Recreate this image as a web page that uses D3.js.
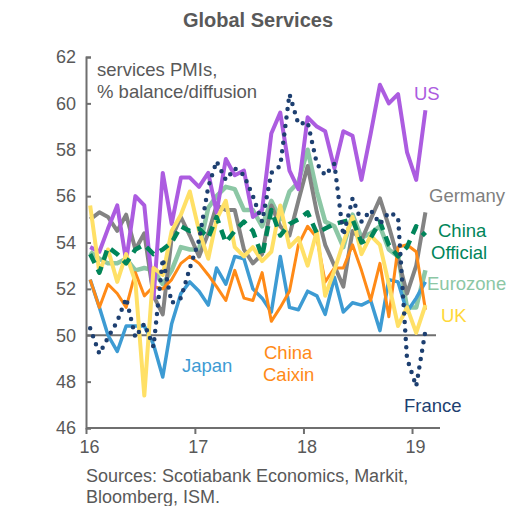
<!DOCTYPE html>
<html><head><meta charset="utf-8">
<script src="https://cdn.jsdelivr.net/npm/d3@7"></script>
<style>body{margin:0;background:#fff}svg{display:block}text{font-family:"Liberation Sans",Arial,sans-serif}</style>
</head><body><svg id="c" width="516" height="506"></svg>
<script>
// Monthly data, Jan 2016 – Feb 2019
const startYear = 2016, startMonth = 0;
const us = [53.8,53.6,54.6,55.6,53.2,56.0,55.6,51.6,57.0,54.8,56.8,56.8,
            56.4,57.0,55.3,57.6,56.9,57.1,55.1,55.4,58.7,59.6,57.1,56.3,
            59.4,59.0,58.8,57.2,58.8,58.6,56.7,58.7,60.8,60.0,60.4,57.9,
            56.7,59.7];
const germany = [55.0,55.3,55.1,54.5,55.2,53.7,54.4,51.7,50.9,54.2,55.1,54.3,
                 53.4,54.4,55.6,55.4,55.4,53.7,53.1,53.5,55.6,54.7,54.3,55.8,
                 57.3,55.3,53.9,53.0,52.1,54.5,54.1,55.0,55.9,54.7,53.3,51.8,
                 53.0,55.3];
const eurozone = [53.6,53.3,53.1,53.1,53.3,52.8,52.9,52.8,52.2,52.8,53.8,53.7,
                  53.7,55.5,56.0,56.4,56.3,55.4,55.4,54.7,55.8,55.0,56.2,56.6,
                  58.0,56.2,54.9,54.7,53.8,55.2,54.2,54.4,54.7,53.7,53.4,51.2,
                  51.2,52.8];
const chinaOfficial = [53.5,52.7,53.8,53.5,53.1,53.7,53.9,53.5,53.7,54.0,54.7,54.5,
                       54.6,54.2,55.1,54.0,54.5,54.9,54.5,53.4,55.4,54.3,54.8,55.0,
                       55.3,54.4,54.6,54.8,54.9,55.0,54.0,54.2,54.9,53.9,53.4,53.8,
                       54.7,54.3];
const chinaCaixin = [52.4,51.2,52.2,51.8,51.2,52.7,51.7,52.1,52.0,52.4,53.1,53.4,
                     53.1,52.6,52.1,51.5,52.8,51.6,51.5,52.7,50.6,51.2,51.9,53.9,
                     54.7,54.2,52.3,52.9,52.9,53.9,52.8,51.5,53.1,50.8,53.8,53.9,
                     53.6,51.1];
const japan = [52.4,51.2,50.0,49.3,50.4,50.4,50.4,49.6,48.2,50.5,51.8,52.3,
               51.9,51.3,52.9,52.2,53.4,53.3,52.0,51.6,51.0,53.4,51.2,51.1,
               51.9,51.7,50.9,52.5,51.0,51.4,51.3,51.5,50.2,52.4,52.3,51.0,
               51.6,52.3];
const uk = [55.6,52.7,53.7,52.3,53.5,52.3,47.4,52.9,52.6,54.5,55.2,56.2,
            54.5,53.3,55.0,55.8,53.8,53.4,53.8,53.2,53.6,55.6,53.8,54.2,
            53.0,54.5,51.7,52.8,54.0,55.1,53.5,54.3,53.9,52.2,50.4,51.2,
            50.1,51.3];
const france = [50.3,49.2,49.9,50.6,51.6,49.9,50.5,49.5,53.3,51.4,51.6,52.9,
                54.1,56.4,57.5,56.7,57.2,56.9,56.0,54.9,57.0,57.3,60.4,59.1,
                59.2,57.4,56.9,57.4,54.3,55.9,54.9,55.4,54.8,55.3,55.1,49.0,
                47.8,50.2];
const yTicks = [46,48,50,52,54,56,58,60,62];
const xTickYears = [2016,2017,2018,2019];
const xTickLabels = ["16","17","18","19"];

const svg = d3.select("#c");
const x = d3.scaleTime().domain([new Date(2016,0,1), new Date(2019,3,5)]).range([86, 440]);
const y = d3.scaleLinear().domain([46, 62]).range([428, 57]);
const date = i => new Date(startYear, startMonth + i, 15);
const axisCol = "#6f6f6f", txtCol = "#595959";
const FONT = "Liberation Sans, Arial, sans-serif";

// title
svg.append("text").attr("x", 258).attr("y", 27).attr("text-anchor","middle")
  .attr("font-size", 20).attr("font-weight","bold").attr("fill", txtCol).text("Global Services");

// y axis
const yAxis = d3.axisLeft(y).tickValues(yTicks).tickSize(-5).tickPadding(10).tickFormat(d3.format("d"));
const gy = svg.append("g").attr("transform","translate(86,0)").call(yAxis);
gy.select(".domain").attr("stroke", axisCol).attr("stroke-width", 2);
gy.selectAll(".tick line").attr("stroke", axisCol).attr("stroke-width", 2);
gy.selectAll(".tick text").attr("font-size", 18).attr("fill", txtCol).attr("font-family", FONT);

// x axis
const xAxis = d3.axisBottom(x).tickValues(xTickYears.map(yr => new Date(yr,0,1)))
  .tickSize(6).tickPadding(6).tickFormat((d,i) => xTickLabels[i]);
const gx = svg.append("g").attr("transform","translate(0,428)").call(xAxis);
gx.select(".domain").attr("stroke", axisCol).attr("stroke-width", 2).attr("d", "M86,0H440");
gx.selectAll(".tick line").attr("stroke", axisCol).attr("stroke-width", 2);
gx.selectAll(".tick text").attr("font-size", 18).attr("fill", txtCol).attr("dx", 3).attr("font-family", FONT);

// 50 line
svg.append("line").attr("x1", 86).attr("x2", 436).attr("y1", y(50)).attr("y2", y(50))
  .attr("stroke", "#6f6f6f").attr("stroke-width", 2);

const line = d3.line().x((d,i) => x(date(i))).y(d => y(d));
const series = [
  {v: eurozone, c: "#8cc7a5", w: 4.5},
  {v: germany, c: "#838383", w: 4},
  {v: japan, c: "#3d9bd3", w: 3.5},
  {v: chinaCaixin, c: "#ff8a17", w: 3},
  {v: us, c: "#ac5ce0", w: 4},
  {v: uk, c: "#ffe066", w: 4},
  {v: chinaOfficial, c: "#00855a", w: 4.5, dash: "10,7"},
  {v: france, c: "#1d3f70", w: 4.5, dash: "0,8.5", cap: "round"}
];
series.forEach(s => {
  svg.append("path").attr("d", line(s.v)).attr("fill","none")
    .attr("stroke", s.c).attr("stroke-width", s.w)
    .attr("stroke-linejoin","round")
    .attr("stroke-linecap", s.cap || "butt")
    .attr("stroke-dasharray", s.dash || null);
});

// annotation labels
const labels = [
  {t:["services PMIs,","% balance/diffusion"], x:97, y:76, c:txtCol},
  {t:["US"], x:414, y:100, c:"#ac5ce0"},
  {t:["Germany"], x:429, y:202, c:"#7f7f7f"},
  {t:["China","Official"], x:[438,431], y:237, c:"#00855a"},
  {t:["Eurozone"], x:427, y:290, c:"#8cc7a5"},
  {t:["UK"], x:441, y:322, c:"#ffd83a"},
  {t:["France"], x:404, y:412, c:"#1d3f70"},
  {t:["Japan"], x:182, y:372, c:"#3d9bd3"},
  {t:["China","Caixin"], x:[264,263], y:359, c:"#ff8a17"}
];
labels.forEach(l => {
  l.t.forEach((s,i) => {
    svg.append("text").attr("x", Array.isArray(l.x) ? l.x[i] : l.x).attr("y", l.y + i*22)
      .attr("font-size", 18.5).attr("fill", l.c).text(s);
  });
});

// sources
svg.append("text").attr("x", 86).attr("y", 482).attr("font-size", 18).attr("fill", txtCol)
  .text("Sources: Scotiabank Economics, Markit,");
svg.append("text").attr("x", 86).attr("y", 503).attr("font-size", 18).attr("fill", txtCol)
  .text("Bloomberg, ISM.");
</script></body></html>
